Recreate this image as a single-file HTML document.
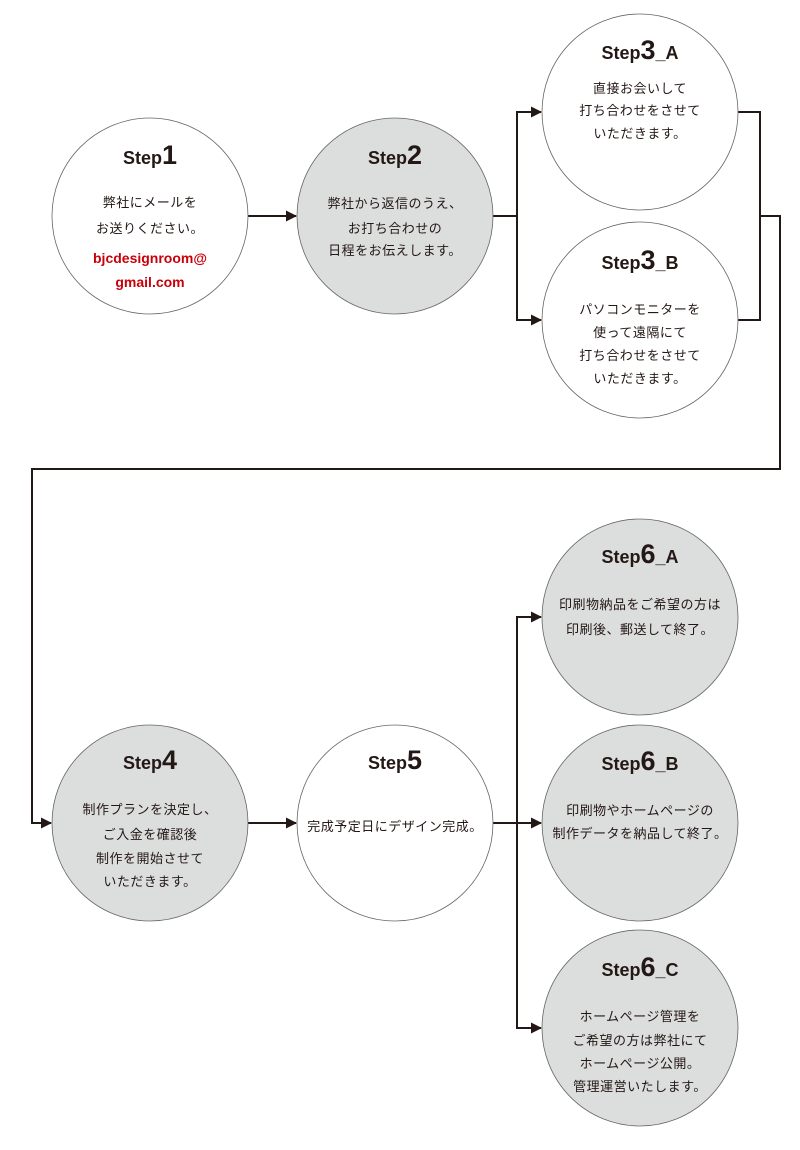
<!DOCTYPE html>
<html><head><meta charset="utf-8"><style>
html,body{margin:0;padding:0;background:#fff;}
svg{display:block;}
text{font-family:"Liberation Sans","Noto Sans CJK JP",sans-serif;fill:#231815;text-anchor:middle;}
.t{font-size:18px;font-weight:bold;}
.n{font-size:27px;font-weight:bold;}
.b{font-size:13px;letter-spacing:0.5px;}
.r{font-size:14px;font-weight:bold;fill:#c8000a;}
</style></head><body>
<svg width="800" height="1150" viewBox="0 0 800 1150" xmlns="http://www.w3.org/2000/svg">
<defs><marker id="a" markerWidth="11" markerHeight="11" refX="10" refY="5.5" orient="auto" markerUnits="userSpaceOnUse"><path d="M0,0 L11,5.5 L0,11 z" fill="#231815"/></marker></defs>
<g stroke="#231815" stroke-width="2" fill="none">
<line x1="248" y1="216" x2="296" y2="216" marker-end="url(#a)"/>
<polyline points="493,216 517,216"/>
<polyline points="517,216 517,112 541,112" marker-end="url(#a)"/>
<polyline points="517,216 517,320 541,320" marker-end="url(#a)"/>
<polyline points="738,112 760,112 760,320 738,320"/>
<polyline points="760,216 780,216 780,469 32,469 32,823 51,823" marker-end="url(#a)"/>
<line x1="247" y1="823" x2="296" y2="823" marker-end="url(#a)"/>
<polyline points="493,823 517,823"/>
<polyline points="517,823 517,617 541,617" marker-end="url(#a)"/>
<line x1="517" y1="823" x2="541" y2="823" marker-end="url(#a)"/>
<polyline points="517,823 517,1028 541,1028" marker-end="url(#a)"/>
</g>
<g stroke="#666" stroke-width="0.8">
<circle cx="150" cy="216" r="98" fill="#fff"/>
<circle cx="395" cy="216" r="98" fill="#dcdddd"/>
<circle cx="640" cy="112" r="98" fill="#fff"/>
<circle cx="640" cy="320" r="98" fill="#fff"/>
<circle cx="150" cy="823" r="98" fill="#dcdddd"/>
<circle cx="395" cy="823" r="98" fill="#fff"/>
<circle cx="640" cy="617" r="98" fill="#dcdddd"/>
<circle cx="640" cy="823" r="98" fill="#dcdddd"/>
<circle cx="640" cy="1028" r="98" fill="#dcdddd"/>
</g>
<text class="t" x="150" y="164">Step<tspan class="n">1</tspan></text>
<text class="b" x="150" y="207">弊社にメールを</text>
<text class="b" x="150" y="233">お送りください。</text>
<text class="r" x="150" y="263">bjcdesignroom@</text>
<text class="r" x="150" y="287">gmail.com</text>

<text class="t" x="395" y="164">Step<tspan class="n">2</tspan></text>
<text class="b" x="395" y="208">弊社から返信のうえ、</text>
<text class="b" x="395" y="233">お打ち合わせの</text>
<text class="b" x="395" y="255">日程をお伝えします。</text>

<text class="t" x="640" y="59">Step<tspan class="n">3</tspan>_A</text>
<text class="b" x="640" y="93">直接お会いして</text>
<text class="b" x="640" y="115">打ち合わせをさせて</text>
<text class="b" x="640" y="138">いただきます。</text>

<text class="t" x="640" y="269">Step<tspan class="n">3</tspan>_B</text>
<text class="b" x="640" y="314">パソコンモニターを</text>
<text class="b" x="640" y="337">使って遠隔にて</text>
<text class="b" x="640" y="360">打ち合わせをさせて</text>
<text class="b" x="640" y="383">いただきます。</text>

<text class="t" x="150" y="769">Step<tspan class="n">4</tspan></text>
<text class="b" x="150" y="814">制作プランを決定し、</text>
<text class="b" x="150" y="839">ご入金を確認後</text>
<text class="b" x="150" y="863">制作を開始させて</text>
<text class="b" x="150" y="886">いただきます。</text>

<text class="t" x="395" y="769">Step<tspan class="n">5</tspan></text>
<text class="b" x="395" y="831">完成予定日にデザイン完成。</text>

<text class="t" x="640" y="563">Step<tspan class="n">6</tspan>_A</text>
<text class="b" x="640" y="609">印刷物納品をご希望の方は</text>
<text class="b" x="640" y="634">印刷後、郵送して終了。</text>

<text class="t" x="640" y="770">Step<tspan class="n">6</tspan>_B</text>
<text class="b" x="640" y="815">印刷物やホームページの</text>
<text class="b" x="640" y="838">制作データを納品して終了。</text>

<text class="t" x="640" y="976">Step<tspan class="n">6</tspan>_C</text>
<text class="b" x="640" y="1021">ホームページ管理を</text>
<text class="b" x="640" y="1045">ご希望の方は弊社にて</text>
<text class="b" x="640" y="1068">ホームページ公開。</text>
<text class="b" x="640" y="1091">管理運営いたします。</text>
</svg>
</body></html>
